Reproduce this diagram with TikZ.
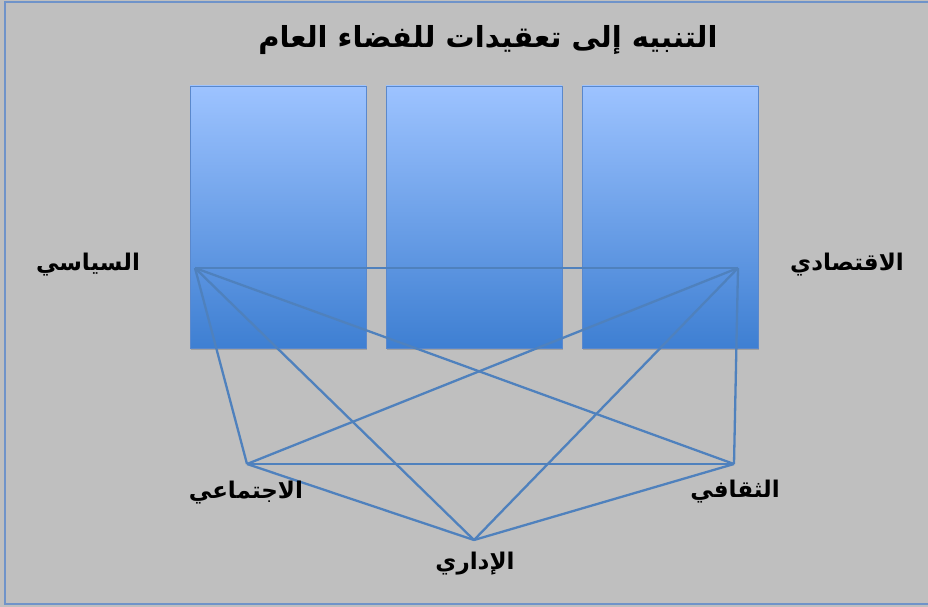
\documentclass[tikz,border=0pt]{standalone}
\usepackage{fontspec}
\usetikzlibrary{shadows}
\newfontfamily\arabicfont[Script=Arabic]{DejaVu Sans}
\TeXXeTstate=1
\definecolor{bg}{HTML}{BFBFBF}
\definecolor{framec}{HTML}{6F93C9}
\definecolor{bartop}{HTML}{9DC3FF}
\definecolor{barmid}{HTML}{7AAAF2}
\definecolor{barbot}{HTML}{3E7FD2}
\definecolor{barline}{HTML}{5A88CC}
\definecolor{linkc}{HTML}{4F81BD}
\tikzset{
  bar/.style={draw=barline, line width=0.8pt, top color=bartop, middle color=barmid, bottom color=barbot,
    minimum width=176pt, minimum height=262pt, inner sep=0pt, outer sep=0pt,
    drop shadow={shadow xshift=1pt, shadow yshift=-1.5pt, opacity=0.35, fill=black!60}},
  link/.style={draw=linkc, line width=2.3pt},
  lab/.style={font=\arabicfont\bfseries\fontsize{23}{27}\selectfont, text=black, inner sep=0pt},
  ttl/.style={font=\arabicfont\bfseries\fontsize{29}{34}\selectfont, text=black, inner sep=0pt}
}
\begin{document}
\begin{tikzpicture}[x=1pt,y=-1pt]
\useasboundingbox (0,0) rectangle (928,607);
\fill[bg] (0,0) rectangle (928,607);
\draw[framec, line width=1.2pt] (5,2) rectangle (935,604);
\node[ttl] (title) at (488,40) {\beginR التنبيه إلى تعقيدات للفضاء العام\endR};
\node[bar] (r1) at (278,217) {};
\node[bar] (r2) at (474,217) {};
\node[bar] (r3) at (670,217) {};
\coordinate (pol) at (195,268);
\coordinate (eco) at (738,268);
\coordinate (soc) at (247,464);
\coordinate (cul) at (734,464);
\coordinate (adm) at (474,540);
\draw[link] (pol) -- (eco);
\draw[link] (pol) -- (soc);
\draw[link] (pol) -- (cul);
\draw[link] (pol) -- (adm);
\draw[link] (eco) -- (soc);
\draw[link] (eco) -- (cul);
\draw[link] (eco) -- (adm);
\draw[link] (soc) -- (cul);
\draw[link] (soc) -- (adm);
\draw[link] (cul) -- (adm);
\node[lab] (lpol) at (88,265) {\beginR السياسي\endR};
\node[lab] (leco) at (847,265) {\beginR الاقتصادي\endR};
\node[lab] (lsoc) at (246,493) {\beginR الاجتماعي\endR};
\node[lab] (lcul) at (735,492) {\beginR الثقافي\endR};
\node[lab] (ladm) at (475,564) {\beginR الإداري\endR};
\end{tikzpicture}
\end{document}
